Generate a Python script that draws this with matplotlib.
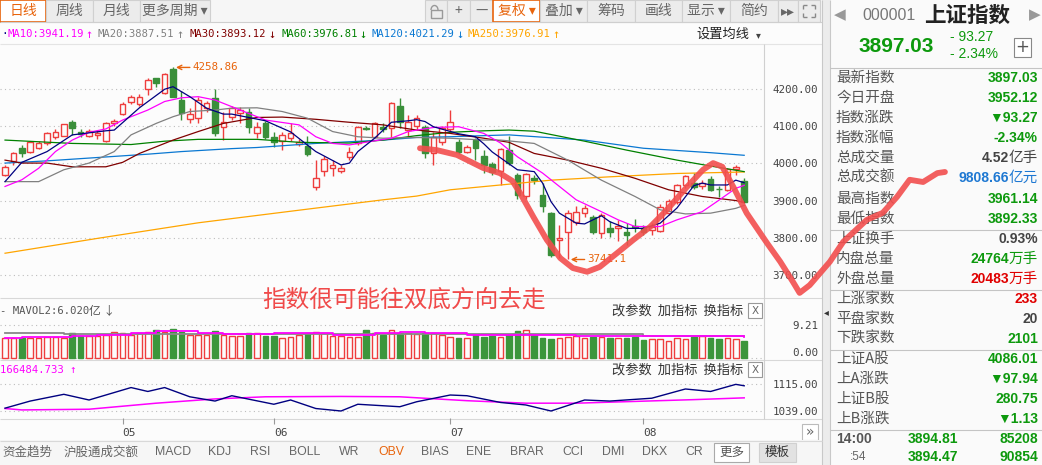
import matplotlib
matplotlib.use('Agg')
import matplotlib.pyplot as plt
from matplotlib.patches import Rectangle, Arc
import numpy as np

CJK = ['Noto Sans CJK SC', 'DejaVu Sans']
MONO = ['DejaVu Sans Mono', 'Noto Sans CJK SC']
SANS = ['Liberation Sans', 'Noto Sans CJK SC', 'DejaVu Sans']
plt.rcParams['font.family'] = CJK

# ---- daily candles ----
opens = [3969, 4007, 4041, 4030, 4043, 4054, 4072, 4075, 4113, 4084,
         4075, 4078, 4061, 4108, 4133, 4167, 4160, 4200, 4229, 4191,
         4255, 4171, 4120, 4122, 4149, 4176, 4097, 4126, 4135, 4138,
         4081, 4108, 4070, 4061, 4068, 4053, 4047, 3937, 3980, 3987,
         3981, 4018, 4054, 4096, 4072, 4097, 4095, 4156, 4090, 4102,
         4099, 4027, 4059, 4093, 4058, 4032, 4063, 4020, 3999, 3979,
         4036, 3969, 3913, 3962, 3915, 3867, 3794, 3816, 3841, 3867,
         3857, 3812, 3825, 3826, 3816, 3832, 3825, 3821, 3818, 3866,
         3897, 3942, 3948, 3938, 3957, 3932, 3929, 3984, 3952.12]
highs = [3995, 4032, 4051, 4060, 4060, 4084, 4092, 4107, 4116, 4092,
         4094, 4090, 4112, 4120, 4165, 4185, 4187, 4230, 4230, 4243,
         4258.86, 4194, 4150, 4180, 4168, 4201, 4140, 4155, 4152, 4150,
         4112, 4115, 4086, 4085, 4108, 4065, 4075, 4009, 4020, 4009,
         3996, 4045, 4100, 4100, 4112, 4108, 4167, 4176, 4130, 4130,
         4105, 4086, 4100, 4145, 4065, 4050, 4068, 4036, 4005, 4042,
         4075, 3975, 3975, 3970, 3947, 3870, 3834, 3875, 3885, 3887,
         3862, 3867, 3845, 3848, 3840, 3850, 3835, 3840, 3890, 3905,
         3945, 3970, 3975, 3955, 3965, 3940, 3988, 3995, 3961.14]
lows = [3965, 3996, 4018, 4028, 4040, 4050, 4066, 4073, 4078, 4070,
        4070, 4066, 4058, 4100, 4130, 4160, 4155, 4185, 4205, 4188,
        4178, 4117, 4110, 4110, 4140, 4075, 4062, 4118, 4110, 4082,
        4068, 4065, 4045, 4036, 4060, 4048, 4020, 3929, 3966, 3965,
        3975, 4010, 4050, 4090, 4068, 4085, 4070, 4095, 4075, 4090,
        4015, 3996, 4050, 4085, 4025, 4028, 4010, 3975, 3968, 3942,
        3995, 3905, 3905, 3945, 3870, 3748, 3745, 3741.1, 3835, 3855,
        3810, 3800, 3803, 3790, 3780, 3815, 3806, 3806, 3815, 3860,
        3890, 3935, 3930, 3930, 3925, 3910, 3925, 3970, 3892.33]
closes = [3991, 4027, 4027, 4057, 4054, 4081, 4084, 4105, 4095, 4080,
          4088, 4082, 4108, 4114, 4160, 4178, 4180, 4225, 4216, 4240,
          4180, 4135, 4133, 4171, 4162, 4081, 4113, 4150, 4145, 4097,
          4099, 4070, 4059, 4077, 4083, 4059, 4026, 3960, 4012, 3996,
          3987, 4032, 4098, 4094, 4108, 4093, 4162, 4111, 4113, 4122,
          4027, 4070, 4095, 4113, 4032, 4044, 4041, 3995, 3977, 4038,
          4001, 3915, 3972, 3956, 3886, 3752, 3798, 3866, 3870, 3879,
          3816, 3861, 3816, 3832, 3807, 3829, 3816, 3830, 3882, 3900,
          3942, 3967, 3936, 3947, 3929, 3930, 3984, 3990.3, 3897.03]
volumes = [5.6, 5.6, 5.6, 5.6, 5.8, 6.0, 6.0, 5.8, 7.0, 6.3,
           6.3, 6.3, 6.5, 7.4, 7.2, 6.6, 7.1, 7.4, 7.9, 7.4,
           8.2, 7.4, 6.6, 6.6, 6.5, 7.5, 6.6, 6.3, 6.3, 7.0,
           7.2, 6.3, 6.3, 5.8, 6.0, 6.5, 7.0, 7.4, 7.0, 6.3,
           6.3, 5.9, 6.0, 7.9, 7.0, 6.4, 7.9, 7.1, 7.0, 6.7,
           7.0, 7.1, 6.5, 6.0, 5.6, 5.7, 6.5, 6.0, 6.3, 6.0,
           6.5, 7.6, 7.8, 6.5, 5.6, 5.3, 5.6, 6.0, 6.3, 5.6,
           6.0, 6.0, 5.7, 5.7, 5.7, 6.0, 5.1, 5.3, 5.3, 4.8,
           5.6, 5.5, 5.9, 6.1, 5.7, 5.4, 5.6, 5.3, 4.8]

# ---- moving averages, sampled at candle index ----
ma5_idx = [0, 2, 5, 8, 12, 13, 16, 19, 20, 22, 24, 26, 27, 29, 31, 34, 37, 40, 41, 42,
           44, 46, 48, 49, 50, 51, 54, 56, 57, 58, 61, 63, 64, 65, 66, 68, 69, 71, 72, 74,
           76, 78, 80, 81, 82, 83, 84, 86, 87, 88]
ma5_val = [3951, 4003, 4032, 4077, 4088, 4090, 4150, 4200, 4207, 4180, 4149, 4133, 4133, 4124, 4115,
           4085, 4032, 3996, 4001, 4032, 4068, 4111, 4115, 4118, 4113, 4099, 4080, 4072, 4053, 4031,
           3983, 3978, 3947, 3897, 3866, 3839, 3837, 3859, 3843, 3825, 3825, 3839, 3880, 3910, 3940,
           3947, 3942, 3942, 3955, 3948]
ma10_idx = [0, 2, 4, 6, 8, 10, 12, 14, 17, 19, 21, 23, 25, 27, 29, 31, 35, 37, 39, 41,
            44, 46, 48, 51, 54, 57, 59, 61, 64, 66, 68, 71, 73, 75, 77, 78, 80, 83, 85, 87, 88]
ma10_val = [3938, 3956, 3987, 4032, 4063, 4084, 4093, 4117, 4144, 4167, 4177, 4180, 4171, 4153, 4135,
            4117, 4104, 4072, 4054, 4050, 4061, 4068, 4086, 4097, 4099, 4081, 4055, 4018, 3974, 3938,
            3902, 3870, 3848, 3830, 3830, 3830, 3848, 3870, 3901, 3933, 3941]
ma20_idx = [0, 4, 7, 10, 13, 15, 18, 20, 22, 25, 27, 30, 33, 36, 39, 42, 45, 49, 53, 57,
            59, 63, 67, 71, 75, 78, 81, 84, 87, 88]
ma20_val = [3951, 3951, 3983, 4001, 4032, 4077, 4108, 4126, 4140, 4144, 4149, 4150, 4140, 4122, 4086,
            4072, 4068, 4070, 4068, 4063, 4063, 4054, 4009, 3955, 3911, 3875, 3864, 3866, 3879, 3887]
ma30_idx = [0, 2, 5, 8, 12, 14, 16, 20, 23, 26, 30, 33, 37, 41, 45, 49, 53, 57, 60, 63,
            67, 71, 75, 79, 83, 87, 88]
ma30_val = [4009, 4001, 4001, 3991, 3991, 4003, 4027, 4063, 4086, 4108, 4124, 4125, 4119, 4111, 4104,
            4090, 4081, 4068, 4057, 4027, 4009, 3987, 3960, 3929, 3911, 3900, 3895]
ma60_idx = [0, 8, 15, 19, 23, 30, 35, 41, 45, 49, 53, 57, 60, 63, 69, 74, 80, 84, 88]
ma60_val = [4063, 4054, 4051, 4060, 4065, 4065, 4057, 4055, 4063, 4075, 4084, 4088, 4090, 4087,
            4060, 4036, 4009, 3993, 3978]
ma120_idx = [0, 5, 11, 17, 21, 27, 30, 37, 45, 49, 53, 57, 60, 69, 76, 84, 88]
ma120_val = [4001, 4007, 4016, 4025, 4032, 4040, 4043, 4054, 4063, 4070, 4072, 4075, 4077, 4063,
             4041, 4029, 4022]
ma250_idx = [0, 11, 23, 35, 45, 49, 53, 65, 72, 80, 88]
ma250_val = [3758, 3798, 3840, 3874, 3902, 3912, 3929, 3955, 3964, 3973, 3977]

ma_legend = [('MA10:3941.19', '↑', '#ff00ff'), ('MA20:3887.51', '↑', '#808080'),
             ('MA30:3893.12', '↓', '#800000'), ('MA60:3976.81', '↓', '#008000'),
             ('MA120:4021.29', '↓', '#0a78d2'), ('MA250:3976.91', '↑', '#ffa500')]

# volume averages
mavol1_idx = [0, 6, 7, 75, 76, 88]
mavol1_val = [7.1, 7.1, 6.7, 6.7, 6.3, 6.3]
mavol2_idx = [0, 1, 2, 7, 8, 10, 11, 13, 15, 17, 18, 22, 23, 25, 26, 32, 36, 39, 43, 44,
              47, 50, 55, 62, 68, 75, 80, 85, 88]
mavol2_val = [5.6, 5.6, 6.0, 6.0, 6.3, 6.3, 6.5, 6.5, 7.0, 7.0, 7.6, 7.6, 7.2, 7.0, 6.7, 7.0,
              7.0, 6.5, 6.6, 7.2, 7.4, 7.2, 6.5, 6.4, 6.2, 6.3, 6.2, 6.1, 6.0]

# OBV panel
obv_idx = [0, 3, 7, 10, 15, 17, 19, 22, 25, 27, 32, 34, 37, 40, 42, 47, 49, 53, 55, 59,
           62, 65, 69, 72, 77, 81, 84, 87, 88]
obv_val = [1047, 1067, 1086, 1070, 1105, 1094, 1105, 1079, 1067, 1082, 1058, 1070, 1046, 1039,
           1058, 1051, 1065, 1084, 1082, 1063, 1056, 1039, 1070, 1067, 1075, 1101, 1094, 1114, 1110]
obvma_idx = [0, 2, 10, 18, 25, 31, 40, 47, 55, 62, 68, 75, 82, 88]
obvma_val = [1046, 1042, 1044, 1061, 1073, 1079, 1080, 1079, 1068, 1061, 1061, 1066, 1071, 1076]

month_ticks = [14, 32, 53, 76]
month_labels = ['05', '06', '07', '08']
price_grid = [3700, 4200, 4100, 4000, 3900, 3800]

# freehand red stroke drawn by the author (candle index, price)
stroke_idx = [49.4, 51.4, 53.8, 56.9, 58.9, 60.4, 61.3, 62.9, 64.5, 66.1, 67.6, 69.3, 70.8,
              72.9, 74.8, 76.8, 78.8, 81.2, 83.1, 84.3, 85.4, 86.7, 88.3, 90.7, 92.3, 93.8,
              94.6, 95.8, 98.2, 99.8, 102.6, 104.5, 106.2, 107.7, 109.3, 111.0, 111.9]
stroke_price = [4041, 4036, 4023, 3988, 3974, 3953, 3921, 3856, 3794, 3745, 3718, 3708, 3721,
                3759, 3794, 3829, 3875, 3937, 3983, 4001, 3991, 3937, 3866, 3786, 3735, 3681,
                3651, 3672, 3735, 3789, 3848, 3867, 3910, 3956, 3950, 3974, 3977]

# right info panel
info_rows = [('最新指数', '3897.03', '', 'g'), ('今日开盘', '3952.12', '', 'g'),
             ('指数涨跌', '▼93.27', '', 'g'), ('指数涨幅', '-2.34%', '', 'g'),
             ('总成交量', '4.52', '亿手', 'k'), ('总成交额', '9808.66', '亿元', 'b'),
             ('最高指数', '3961.14', '', 'g'), ('最低指数', '3892.33', '', 'g'),
             ('上证换手', '0.93%', '', 'k'), ('内盘总量', '24764', '万手', 'g'),
             ('外盘总量', '20483', '万手', 'r'), ('上涨家数', '233', '', 'r'),
             ('平盘家数', '20', '', 'k'), ('下跌家数', '2101', '', 'g'),
             ('上证A股', '4086.01', '', 'g'), ('上A涨跌', '▼97.94', '', 'g'),
             ('上证B股', '280.75', '', 'g'), ('上B涨跌', '▼1.13', '', 'g')]
bottom_tabs = ['资金趋势', '沪股通成交额', 'MACD', 'KDJ', 'RSI', 'BOLL', 'WR', 'OBV', 'BIAS',
               'ENE', 'BRAR', 'CCI', 'DMI', 'DKX', 'CR']

assert len(opens) == len(highs) == len(lows) == len(closes) == len(volumes) == 89

W, H = 1042, 465
BG = '#fcfcfc'
RED = '#ee3d3d'
GREEN = '#3a8f3a'
ORANGE = '#e8640c'
TXT_G = '#0d990d'
TXT_R = '#e00000'
TXT_B = '#1e78d2'
TXT_K = '#444444'
tone = {'g': TXT_G, 'r': TXT_R, 'b': TXT_B, 'k': TXT_K}

fig = plt.figure(figsize=(W / 100, H / 100), dpi=100, facecolor=BG)


def box(x0, y0, x1, y1):
    return [x0 / W, 1 - y1 / H, (x1 - x0) / W, (y1 - y0) / H]


ui = fig.add_axes([0, 0, 1, 1])
ui.set_xlim(0, W)
ui.set_ylim(H, 0)
ui.axis('off')


def rect(x0, y0, x1, y1, fc, ec='none', lw=0.8):
    ui.add_patch(Rectangle((x0, y0), x1 - x0, y1 - y0, fc=fc, ec=ec, lw=lw))


def line(xs, ys, color='#d4d4d4', lw=0.8):
    ui.plot(xs, ys, color=color, lw=lw, solid_capstyle='butt')


def tx(x, y, s, size=9, color='#333', ha='left', family=CJK, weight='normal'):
    ui.text(x, y, s, fontsize=size, color=color, ha=ha, va='center',
            family=family, fontweight=weight)


# ---- chrome: toolbar ----
rect(0, 0, 822, 22, '#f6f6f6')
line([0, 822], [22.5, 22.5], '#cfcfcf')
for name, x0, x1, act in [('日线', 0, 46, True), ('周线', 46, 93, False),
                          ('月线', 93, 140, False), ('更多周期 ▾', 140, 210, False)]:
    if act:
        rect(x0, 0, x1, 22.5, 'white', ORANGE, 1.2)
    else:
        rect(x0, 0, x1, 22, '#ececec', '#d0d0d0')
    tx((x0 + x1) / 2, 11, name, 10, ORANGE if act else '#666', 'center')
for name, x0, x1, act in [('', 425, 447, False), ('+', 447, 470, False), ('—', 470, 493, False),
                          ('复权 ▾', 493, 540, True), ('叠加 ▾', 540, 587, False),
                          ('筹码', 587, 635, False), ('画线', 635, 682, False),
                          ('显示 ▾', 682, 730, False), ('简约', 730, 778, False),
                          ('▸▸', 778, 798, False), ('', 798, 820, False)]:
    if act:
        rect(x0, 0, x1, 22.5, 'white', ORANGE, 1.2)
    else:
        rect(x0, 0, x1, 22, '#ececec', '#d0d0d0')
    tx((x0 + x1) / 2, 11, name, 10, ORANGE if act else '#666', 'center')
# lock icon
ui.add_patch(Rectangle((431, 10), 11, 8, fc='none', ec='#999', lw=1))
ui.add_patch(Arc((434.5, 10), 7, 9, theta1=180, theta2=360, ec='#999', lw=1))
# fullscreen icon
for cx, cy, dx, dy in [(803, 5, 1, 1), (815, 5, -1, 1), (803, 17, 1, -1), (815, 17, -1, -1)]:
    line([cx, cx + 4 * dx], [cy, cy], '#888', 1)
    line([cx, cx], [cy, cy + 4 * dy], '#888', 1)

# MA legend row
line([0, 822], [44, 44], '#e4e4e4')
tx(1, 34, '·', 8, '#000080', family=MONO)
lx = [7, 98, 190, 281, 372, 468]
for x, (lab, arr, col) in zip(lx, ma_legend):
    tx(x, 34, lab, 7.6, col, family=MONO)
    tx(x + len(lab) * 6.1 + 5, 34, arr, 8.5, col, family=MONO)
tx(696, 34, '设置均线', 9.5, '#222')
tx(756, 35, '▾', 7, '#444', family=['DejaVu Sans'])

# panel separators
for y in [297.5, 360, 418.5]:
    line([0, 822], [y, y], '#d8d8d8')
line([763.5, 763.5], [44, 418.5], '#d0d0d0')
rect(822, 0, 830, H, '#ececec')
line([822, 822], [0, H], '#c8c8c8')
line([830, 830], [0, H], '#c8c8c8')
tx(826, 312, '◂', 7, '#333', 'center', family=['DejaVu Sans'])

# panel headers
tx(0, 311, '- MAVOL2:6.020', 7.6, '#555', family=MONO)
tx(89, 311, '亿 ↓', 8.5, '#555')
tx(0, 370, '166484.733 ↑', 7.6, '#ff00ff', family=MONO)
for y in [311, 370]:
    tx(612, y, '改参数  加指标  换指标', 9.5, '#333')
    rect(748, y - 8, 762, y + 7, 'white', '#999')
    tx(755, y, 'X', 7.5, '#666', 'center', family=['DejaVu Sans'])

# date axis row right button
rect(802, 424, 818, 440, 'white', '#bbb')
tx(810, 432, '»', 10, '#666', 'center', family=['DejaVu Sans'])

# bottom tabs
rect(0, 440, 822, H, '#f6f6f6')
line([0, 822], [440.5, 440.5], '#d8d8d8')
tab_x = [2, 64, 155, 208, 250, 289, 339, 378, 421, 466, 510, 562, 602, 642, 685]
for x, name in zip(tab_x, bottom_tabs):
    col = ORANGE if name == 'OBV' else '#666'
    tx(x, 452, name, 9 if name in ('资金趋势', '沪股通成交额') else 8.8, col,
       family=SANS if name.isascii() else CJK)
rect(714, 443, 749, 462, 'white', '#aaa')
tx(731.5, 452, '更多', 9, '#555', 'center')
rect(759, 443, 796, 462, '#e2e2e2', '#d0d0d0')
tx(777.5, 452, '模板', 9, '#333', 'center')

# ---- right panel ----
rect(830, 0, W, H, '#fafafa')
tx(840, 15, '◀', 11, '#999', 'center', family=['DejaVu Sans'])
tx(1035, 15, '▶', 11, '#999', 'center', family=['DejaVu Sans'])
tx(862, 15, '000001', 11.5, '#777', family=SANS)
tx(924, 15, '上证指数', 15.5, '#222', weight='bold')
tx(896, 46, '3897.03', 15, TXT_G, 'center', family=SANS, weight='bold')
tx(950, 37, '- 93.27', 10, TXT_G, family=SANS)
tx(950, 54, '- 2.34%', 10, TXT_G, family=SANS)
rect(1014, 38, 1031, 57, 'white', '#888')
tx(1022.5, 47, '+', 12, '#555', 'center', family=['DejaVu Sans'])
for y in [68.5, 229.5, 289.5, 349.5, 429.5]:
    line([830, W], [y, y], '#c4c4c4')
row_y = [78, 98, 118, 138, 158, 178, 199, 219, 239, 259, 279, 299, 319, 339, 359, 379, 399, 419]
for y, (lab, val, unit, c) in zip(row_y, info_rows):
    tx(836, y, lab, 10.5, '#555')
    if unit:
        tx(1038, y, unit, 10.5, tone[c], 'right')
        tx(1009, y, val, 10, tone[c], 'right', family=SANS, weight='bold')
    else:
        tx(1038, y, val, 10, tone[c], 'right', family=SANS, weight='bold')
tx(836, 439, '14:00', 10, '#555', family=SANS, weight='bold')
tx(933, 439, '3894.81', 10, TXT_G, 'center', family=SANS, weight='bold')
tx(1038, 439, '85208', 10, TXT_G, 'right', family=SANS, weight='bold')
tx(850, 457, ':54', 8.5, '#666', family=SANS)
tx(933, 457, '3894.47', 10, TXT_G, 'center', family=SANS, weight='bold')
tx(1038, 457, '90854', 10, TXT_G, 'right', family=SANS, weight='bold')

# ---- price panel ----
idx = np.arange(len(closes))
o = np.array(opens)
c = np.array(closes)
up = c >= o
edge = np.where(up, RED, GREEN)

ax = fig.add_axes(box(0, 44, 763, 297))
ax.set_zorder(5)
ax.set_facecolor('none')
ax.set_xlim(-0.6, 90.24)
ax.set_ylim(3640, 4322)
for v in price_grid:
    ax.axhline(v, color='#bdbdbd', lw=0.8, ls=(0, (1, 3)), zorder=1)
ax.vlines(idx, lows, highs, colors=edge, lw=1, zorder=3)
ax.bar(idx, np.maximum(np.abs(c - o), 1.5), bottom=np.minimum(o, c), width=0.66,
       color=np.where(up, BG, GREEN), edgecolor=edge, lw=1, zorder=4)
for xs, ys, col in [(ma250_idx, ma250_val, '#ffa500'), (ma120_idx, ma120_val, '#0a78d2'),
                    (ma60_idx, ma60_val, '#008000'), (ma30_idx, ma30_val, '#800000'),
                    (ma20_idx, ma20_val, '#808080'), (ma10_idx, ma10_val, '#ff00ff'),
                    (ma5_idx, ma5_val, '#000080')]:
    ax.plot(xs, ys, color=col, lw=0.9, zorder=5)
ax.annotate('4258.86', xy=(20.35, 4258.86), xytext=(12, 0), textcoords='offset points',
            va='center', color=ORANGE, fontsize=7.8, family=MONO,
            arrowprops=dict(arrowstyle='->', color=ORANGE, lw=1, relpos=(0, 0.5),
                            shrinkA=0, shrinkB=0))
ax.annotate('3741.1', xy=(67.35, 3741.1), xytext=(12, 0), textcoords='offset points',
            va='center', color=ORANGE, fontsize=7.8, family=MONO,
            arrowprops=dict(arrowstyle='->', color=ORANGE, lw=1, relpos=(0, 0.5),
                            shrinkA=0, shrinkB=0))
ax.plot(stroke_idx, stroke_price, color='#f24e4e', lw=4.2, alpha=0.9,
        solid_capstyle='round', solid_joinstyle='round', clip_on=False, zorder=20)
ax.yaxis.tick_right()
ax.set_yticks(price_grid)
ax.set_yticklabels([f'{v:.2f}' for v in price_grid], family=MONO)
ax.set_xticks([])
ax.tick_params(axis='y', length=0, pad=39.6, labelsize=7.8, labelcolor='#444')
for t in ax.get_yticklabels():
    t.set_ha('right')
for s in ax.spines.values():
    s.set_visible(False)

# ---- volume panel ----
axv = fig.add_axes(box(0, 318, 763, 360))
axv.set_zorder(2)
axv.set_facecolor('none')
axv.set_xlim(-0.6, 90.24)
axv.set_ylim(-0.47, 11.26)
for v in [0, 9.21]:
    axv.axhline(v, color='#bdbdbd', lw=0.8, ls=(0, (1, 3)), zorder=1)
axv.bar(idx, volumes, width=0.66, color=np.where(up, BG, '#3c963c'),
        edgecolor=np.where(up, RED, '#3c963c'), lw=1, zorder=3)
axv.plot(mavol1_idx, mavol1_val, color='#888888', lw=1.3, drawstyle='steps-post', zorder=4)
axv.plot(mavol2_idx, mavol2_val, color='#ff00ff', lw=1.3, drawstyle='steps-post', zorder=4)
axv.yaxis.tick_right()
axv.set_yticks([0, 9.21])
axv.set_yticklabels(['0.00', '9.21'], family=MONO)
axv.set_xticks([])
axv.tick_params(axis='y', length=0, pad=39.6, labelsize=7.8, labelcolor='#444')
for t in axv.get_yticklabels():
    t.set_ha('right')
axv.get_yticklabels()[0].set_va('bottom')
for s in axv.spines.values():
    s.set_visible(False)

# ---- OBV panel ----
axo = fig.add_axes(box(0, 378, 763, 418))
axo.set_zorder(2)
axo.set_facecolor('none')
axo.set_xlim(-0.6, 90.24)
axo.set_ylim(1019.3, 1131.9)
for v in [1039, 1115]:
    axo.axhline(v, color='#bdbdbd', lw=0.8, ls=(0, (1, 3)), zorder=1)
axo.plot(obvma_idx, obvma_val, color='#ff00ff', lw=1.1, zorder=3)
axo.plot(obv_idx, obv_val, color='#000080', lw=1.0, zorder=4)
axo.yaxis.tick_right()
axo.set_yticks([1039, 1115])
axo.set_yticklabels(['1039.00', '1115.00'], family=MONO)
axo.tick_params(axis='y', length=0, pad=39.6, labelsize=7.8, labelcolor='#444')
for t in axo.get_yticklabels():
    t.set_ha('right')
axo.set_xticks(month_ticks)
axo.set_xticklabels(month_labels, family=MONO)
axo.tick_params(axis='x', length=4, color='#999', pad=3, labelsize=8, labelcolor='#444')
for t in axo.get_xticklabels():
    t.set_ha('left')
for s in axo.spines.values():
    s.set_visible(False)

fig.text(262 / W, 1 - 300 / H, '指数很可能往双底方向去走', fontsize=17, color='#f04a4a',
         ha='left', va='center', family=CJK, zorder=10)

fig.savefig('out.png', dpi=100, facecolor=BG)
